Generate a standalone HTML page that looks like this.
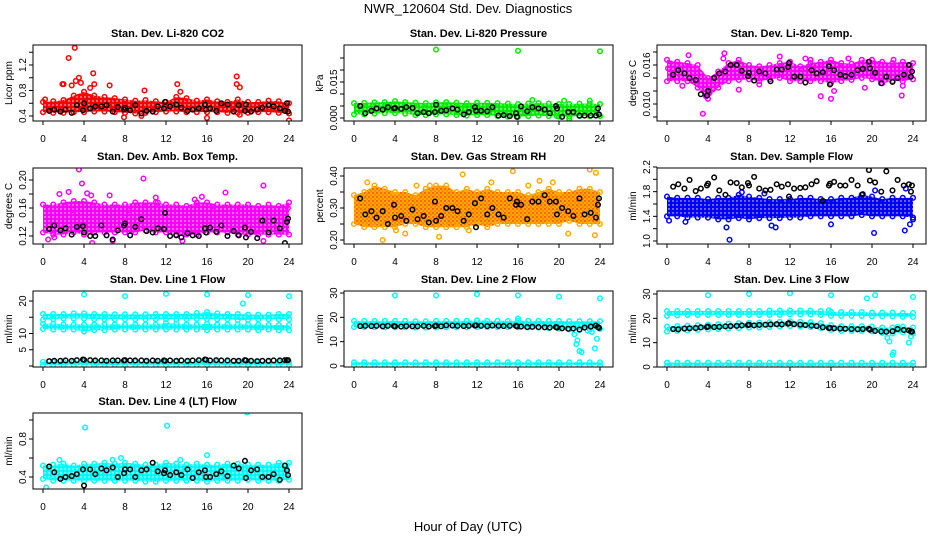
<!DOCTYPE html>
<html><head><meta charset="utf-8"><style>
html,body{margin:0;padding:0;background:#fff;}
svg{display:block;font-family:"Liberation Sans",sans-serif;}
</style></head><body>
<svg id="chart" width="936" height="540" viewBox="0 0 936 540" xmlns="http://www.w3.org/2000/svg">
<text x="468" y="13" text-anchor="middle" font-size="13">NWR_120604  Std. Dev. Diagnostics</text>
<text x="468" y="531" text-anchor="middle" font-size="13">Hour of Day (UTC)</text>
<g id="panels"></g>
</svg>
<script>
const hours=[0,1,2,3,4,5,6,7,8,9,10,11,12,13,14,15,16,17,18,19,20,21,22,23,24];
const bT=[0.6,1.1,1.7,2.2,2.8,3.3,3.9,4.0,4.6,5.1,5.7,6.2,6.8,7.3,7.9,8.0,8.5,9.0,9.6,10.1,10.7,11.2,11.8,11.9,12.4,13.0,13.5,14.1,14.6,15.2,15.8,15.9,16.3,16.9,17.4,18.0,18.6,19.1,19.7,19.8,20.3,20.9,21.4,22.0,22.5,23.1,23.6,23.8,23.9];
const xTicks=[0,4,8,12,16,20,24];

// CO2
const co2Hi=[0.62,0.63,0.65,0.72,0.78,0.72,0.70,0.68,0.66,0.64,0.65,0.63,0.62,0.70,0.68,0.64,0.66,0.63,0.62,0.66,0.62,0.62,0.64,0.63,0.60];
const co2Lo=[0.46,0.45,0.45,0.46,0.46,0.47,0.47,0.46,0.45,0.44,0.45,0.46,0.47,0.47,0.46,0.46,0.46,0.46,0.45,0.45,0.45,0.46,0.46,0.45,0.44];
const co2XT=[2,2.5,3.1,1.9,3.2,3.5,4.9,5.0,6.5,9.9,13.1,13.4,18.9,18.9,19.2,19.2,7.9,16.0,24,3.7,2.8,4.6,0.2,9.6];
const co2XV=[0.90,1.31,1.47,0.90,0.95,1.0,1.07,0.90,0.88,0.80,0.90,0.78,1.02,0.90,0.85,0.42,0.38,0.37,0.33,0.92,0.88,0.84,0.66,0.40];
const co2B=[0.48,0.50,0.47,0.50,0.45,0.57,0.49,0.60,0.52,0.55,0.55,0.57,0.47,0.54,0.50,0.53,0.49,0.57,0.44,0.48,0.47,0.55,0.52,0.62,0.55,0.58,0.53,0.48,0.50,0.52,0.58,0.50,0.52,0.48,0.60,0.58,0.47,0.57,0.48,0.58,0.47,0.50,0.53,0.57,0.55,0.52,0.48,0.60,0.47];
// Pressure
const prHi=[0.0062,0.0063,0.0065,0.0066,0.0070,0.0066,0.0064,0.0062,0.0065,0.0066,0.0064,0.0062,0.0064,0.0063,0.0062,0.0060,0.0058,0.0060,0.0062,0.0060,0.0058,0.0058,0.0060,0.0060,0.0058];
const prLo=[0.0015,0.0015,0.0018,0.0020,0.0020,0.0018,0.0012,0.0012,0.0015,0.0015,0.0012,0.0010,0.0012,0.0012,0.0008,0.0006,0.0005,0.0008,0.0010,0.0008,0.0006,0.0006,0.0008,0.0008,0.0008];
const prXT=[8,16,24,17.4,20.5,23,21,19.8];
const prXV=[0.0285,0.028,0.0278,0.0075,0.0072,0.0072,-0.0003,0.0008];
const prB=[0.005,0.002,0.003,0.004,0.0035,0.0045,0.004,0.0042,0.0038,0.0045,0.0042,0.002,0.0025,0.002,0.0025,0.0055,0.003,0.0032,0.004,0.0035,0.0015,0.0025,0.0045,0.003,0.003,0.0028,0.0045,0.001,0.0012,0.0008,0.002,0.0005,0.0048,0.0028,0.0045,0.004,0.0035,0.002,0.005,0.004,0.0005,0.0025,0.0025,0.001,0.001,0.001,0.001,0.004,0.0015];
// Li-820 Temp
const tpHi=[0.0168,0.0165,0.0163,0.0160,0.0140,0.0150,0.0163,0.0168,0.0160,0.0158,0.0160,0.0163,0.0165,0.0158,0.0163,0.0165,0.0168,0.0163,0.0162,0.0168,0.0168,0.0165,0.0163,0.0165,0.0163];
const tpLo=[0.0135,0.0135,0.0135,0.0125,0.0108,0.0125,0.0135,0.0137,0.0138,0.0135,0.0138,0.0140,0.0135,0.0135,0.0135,0.0135,0.0132,0.0135,0.0137,0.0140,0.0138,0.0132,0.0135,0.0135,0.0138];
const tpXT=[0.1,2.1,3.5,3.8,5.6,5.5,7.0,11.0,15.0,16.0,16.3,22.9,22.1,20.5,19.3,17.7,14.0,13.5,23.0,1.5,9.0];
const tpXV=[0.0155,0.0175,0.0085,0.0112,0.0178,0.0170,0.0122,0.0173,0.0112,0.0108,0.0120,0.0113,0.0168,0.0160,0.0125,0.0170,0.0168,0.0170,0.0128,0.0128,0.0130];
const tpB=[0.0145,0.0152,0.0147,0.0140,0.0137,0.0115,0.0113,0.0120,0.0140,0.0147,0.0150,0.0160,0.0160,0.0151,0.0143,0.0148,0.0136,0.0150,0.0147,0.0135,0.0153,0.0153,0.0157,0.0163,0.0142,0.0142,0.0133,0.0152,0.0147,0.0149,0.0158,0.0130,0.0152,0.0145,0.0143,0.0145,0.0152,0.0154,0.0165,0.0155,0.0148,0.0132,0.0142,0.0134,0.0140,0.0145,0.0160,0.0142,0.0150];
// Amb box temp
const abHi=[0.165,0.165,0.168,0.17,0.17,0.168,0.165,0.165,0.165,0.168,0.168,0.168,0.165,0.165,0.163,0.168,0.168,0.165,0.165,0.165,0.165,0.163,0.165,0.163,0.168];
const abLo=[0.125,0.122,0.122,0.125,0.122,0.125,0.125,0.125,0.125,0.125,0.128,0.125,0.125,0.122,0.122,0.122,0.125,0.125,0.125,0.122,0.122,0.122,0.122,0.122,0.122];
const abXT=[0.5,0.5,1.1,1.6,2.5,2.9,3.5,3.8,4.3,4.8,4.7,6.5,6.8,8.3,9.8,11.2,13.6,14.8,16.5,17.8,19.2,21.5,21.5,23.9,11.0,15.5];
const abXV=[0.16,0.115,0.118,0.18,0.183,0.157,0.215,0.195,0.181,0.11,0.178,0.178,0.113,0.157,0.202,0.168,0.113,0.172,0.162,0.182,0.159,0.192,0.113,0.16,0.175,0.176];
const abB=[0.13,0.135,0.128,0.131,0.122,0.133,0.134,0.125,0.120,0.120,0.135,0.121,0.115,0.128,0.135,0.138,0.121,0.133,0.144,0.127,0.125,0.131,0.130,0.153,0.120,0.121,0.118,0.124,0.121,0.120,0.131,0.125,0.132,0.126,0.135,0.120,0.127,0.121,0.132,0.118,0.126,0.117,0.142,0.125,0.142,0.131,0.11,0.14,0.145];
// RH
const rhHi=[0.34,0.35,0.37,0.36,0.35,0.35,0.34,0.36,0.37,0.37,0.35,0.36,0.35,0.36,0.35,0.35,0.35,0.34,0.35,0.36,0.35,0.35,0.36,0.36,0.35];
const rhLo=[0.25,0.24,0.24,0.24,0.24,0.25,0.25,0.24,0.24,0.24,0.24,0.24,0.25,0.24,0.25,0.25,0.25,0.25,0.25,0.25,0.25,0.26,0.25,0.25,0.25];
const rhXT=[1.3,2.8,4.1,5.0,6.1,8.3,10.6,13.4,15.5,17.0,18.1,19.4,20.9,23.0,23.6,23.5,7.4,11.2];
const rhXV=[0.38,0.20,0.23,0.22,0.37,0.21,0.405,0.38,0.415,0.37,0.385,0.38,0.22,0.42,0.41,0.215,0.37,0.23];
const rhB=[0.33,0.28,0.29,0.27,0.29,0.25,0.31,0.27,0.275,0.26,0.295,0.265,0.275,0.255,0.32,0.26,0.275,0.30,0.30,0.29,0.26,0.28,0.315,0.24,0.33,0.28,0.30,0.28,0.27,0.33,0.31,0.32,0.31,0.265,0.32,0.32,0.34,0.32,0.32,0.28,0.30,0.29,0.275,0.33,0.28,0.285,0.27,0.31,0.33];
// Sample flow
const sfHi=[1.72,1.70,1.70,1.70,1.68,1.70,1.70,1.75,1.72,1.70,1.68,1.68,1.68,1.70,1.70,1.68,1.68,1.70,1.70,1.75,1.72,1.68,1.70,1.70,1.70];
const sfLo=[1.40,1.40,1.38,1.38,1.38,1.35,1.35,1.37,1.35,1.37,1.37,1.37,1.38,1.38,1.40,1.40,1.40,1.40,1.40,1.42,1.40,1.40,1.40,1.40,1.38];
const sfXT=[0.2,1.8,5.8,6.1,10.2,10.6,16.0,20.2,23.2,23.7,24.0,23.3,20.3,7.3,9.5];
const sfXV=[1.33,1.31,1.22,1.02,1.25,1.22,1.27,1.13,1.17,1.27,1.35,1.85,1.82,1.79,1.77];
const sfB=[1.88,1.92,1.85,1.99,1.81,1.85,1.90,1.93,2.03,1.82,1.75,1.95,1.94,1.87,1.94,1.90,2.04,1.85,1.82,1.83,1.92,1.88,1.92,1.72,1.85,1.86,1.87,1.92,1.97,1.65,1.90,1.93,1.96,1.90,1.90,1.99,1.90,1.76,2.15,1.98,1.95,1.80,2.13,1.82,1.99,1.90,1.92,1.80,1.90];
// Line 1
const l1HiA=[16.0,16.0,16.0,16.2,16.2,16.0,16.0,15.9,15.9,15.9,15.9,16.0,16.0,16.0,16.0,16.3,16.6,16.2,16.0,16.0,15.8,15.8,15.8,16.0,16.0];
const l1LoA=[14.2,14.4,14.6,14.6,14.6,14.4,14.4,14.4,14.4,14.4,14.4,14.4,14.4,14.4,14.4,14.5,14.4,14.4,14.4,14.2,14.2,14.4,14.4,14.4,14.4];
const l1HiB=[13.0,13.0,12.8,12.8,12.8,12.8,12.8,12.8,12.8,12.8,12.8,12.8,13.2,13.0,12.8,12.8,13.0,12.8,12.8,12.8,12.8,12.8,12.6,12.6,12.6];
const l1LoB=[11.4,11.2,11.2,11.2,10.6,11.0,11.0,11.2,11.2,11.2,11.2,11.2,11.2,11.2,11.2,11.2,11.0,11.2,11.2,11.2,11.2,11.0,11.2,11.0,11.0];
const l1HiC=[1.3,1.3,1.3,1.3,1.3,1.3,1.3,1.3,1.3,1.3,1.3,1.3,1.3,1.3,1.3,1.3,1.3,1.3,1.3,1.3,1.3,1.3,1.3,1.3,1.3];
const l1LoC=[0.3,0.3,0.3,0.3,0.3,0.3,0.3,0.3,0.3,0.3,0.3,0.3,0.3,0.3,0.3,0.3,0.3,0.3,0.3,0.3,0.3,0.3,0.3,0.3,0.3];
const l1XT=[4,8,12,16,20,24,19.5,19.8];
const l1XV=[22,21.5,22.2,22,21.8,21.5,19.2,15.2];
const l1B=[1.5,1.6,1.6,1.7,1.6,1.8,2.0,1.9,1.8,1.7,1.7,1.6,1.7,1.7,1.7,1.8,1.7,1.7,1.7,1.6,1.7,1.6,1.7,1.6,1.7,1.6,1.7,1.6,1.7,1.8,2.0,1.9,1.7,1.8,1.7,1.7,1.6,1.6,1.8,1.7,1.6,1.5,1.6,1.6,1.7,1.7,1.8,1.8,1.8];
// Line 2
const l2HiA=[18.5,18.5,18.5,18.6,18.5,18.5,18.4,18.4,18.5,18.5,18.6,18.6,18.8,18.6,18.6,18.5,18.6,18.6,18.5,18.5,18.5,18.4,18.4,18.4,18.4];
const l2LoA=[16.0,16.0,16.0,15.9,15.9,15.9,15.8,15.8,15.8,15.9,15.9,15.9,16.0,16.0,16.0,16.0,15.9,15.9,15.8,15.6,15.4,15.0,14.8,15.0,15.2];
const l2HiC=[1.5,1.5,1.5,1.5,1.5,1.5,1.5,1.5,1.5,1.5,1.5,1.5,1.5,1.5,1.5,1.5,1.5,1.5,1.5,1.5,1.5,1.5,1.5,1.5,1.5];
const l2LoC=[0.3,0.3,0.3,0.3,0.3,0.3,0.3,0.3,0.3,0.3,0.3,0.3,0.3,0.3,0.3,0.3,0.3,0.3,0.3,0.3,0.3,0.3,0.3,0.3,0.3];
const l2XT=[4,8,12,16,20,24,16,21.5,21.7,21.8,22,22.2,23.5,23.7,22.8,23.2];
const l2XV=[29,29,29.5,29,28.5,27.8,19.5,13,9,10.5,6.2,5.7,7.2,11.2,14.5,14];
const l2B=[16.4,16.5,16.4,16.5,16.3,16.5,16.4,16.3,16.2,16.4,16.3,16.3,16.5,16.2,16.4,16.6,16.3,16.7,16.6,16.5,16.4,16.5,16.6,16.7,16.5,16.4,16.6,16.5,16.4,16.5,16.5,16.3,16.2,16.0,16.1,16.0,15.9,15.8,16.0,15.8,15.5,15.3,15.4,15.0,15.8,16.2,16.6,16.0,15.7];
// Line 3
const l3HiA=[23.0,23.0,23.0,23.0,23.0,23.0,23.0,23.0,23.0,23.0,23.2,23.2,23.2,23.2,23.2,23.0,22.6,22.6,22.6,22.6,22.4,22.4,22.4,22.2,22.2];
const l3LoA=[21.0,21.2,21.4,21.4,21.4,21.4,21.4,21.4,21.4,21.4,21.4,21.4,21.6,21.6,21.6,21.4,21.0,21.0,21.0,21.0,20.8,20.8,20.8,20.6,20.6];
const l3HiB=[16.6,16.8,17.0,17.2,17.4,17.6,17.8,18.0,18.2,18.2,18.4,18.6,18.8,18.6,18.4,18.0,17.2,16.8,16.8,16.8,16.6,16.2,16.2,16.6,16.2];
const l3LoB=[14.6,14.8,15.0,15.2,15.4,15.6,15.8,16.0,16.2,16.2,16.4,16.6,16.8,16.6,16.4,16.0,15.2,14.8,14.8,14.8,14.6,14.0,13.8,14.2,13.8];
const l3HiC=[1.8,1.8,1.8,1.8,1.8,1.8,1.8,1.8,1.8,1.8,1.8,1.8,1.8,1.8,1.8,1.8,1.8,1.8,1.8,1.8,1.8,1.8,1.8,1.8,1.8];
const l3LoC=[0.4,0.4,0.4,0.4,0.4,0.4,0.4,0.4,0.4,0.4,0.4,0.4,0.4,0.4,0.4,0.4,0.4,0.4,0.4,0.4,0.4,0.4,0.4,0.4,0.4];
const l3XT=[4,8,12,16,19.5,20.3,24,21.5,21.7,22,22.1,23.6,23.8,15.8,22.5,21];
const l3XV=[29.5,30,30.3,29.5,28.2,29.5,28.8,12,10.5,5,6,10,12.5,23.3,16.5,15];
const l3B=[15.6,15.5,15.8,15.9,16.0,16.3,16.4,16.6,16.4,16.5,16.7,16.8,16.9,17.1,17.2,17.4,17.1,17.3,17.4,17.5,17.6,17.5,17.8,18.0,17.6,17.4,17.2,17.0,16.8,16.3,16.0,16.1,15.9,15.8,15.7,15.6,15.5,15.6,15.7,15.3,14.8,14.6,14.5,14.7,15.6,15.2,15.0,14.6,14.5];
// Line 4
const l4Hi=[0.52,0.53,0.54,0.52,0.54,0.54,0.55,0.54,0.55,0.54,0.53,0.53,0.55,0.54,0.53,0.54,0.53,0.53,0.54,0.54,0.53,0.53,0.53,0.55,0.55];
const l4Lo=[0.38,0.36,0.36,0.36,0.36,0.36,0.36,0.36,0.36,0.36,0.35,0.35,0.36,0.36,0.36,0.36,0.35,0.36,0.36,0.36,0.37,0.36,0.36,0.36,0.37];
const l4XT=[4.1,12.1,19.9,0.3,16,1.6,6.8,13.4,7.6];
const l4XV=[0.92,0.94,1.08,0.29,0.63,0.58,0.58,0.58,0.60];
const l4B=[0.51,0.45,0.38,0.40,0.41,0.43,0.48,0.31,0.48,0.43,0.49,0.47,0.50,0.40,0.44,0.48,0.48,0.40,0.47,0.48,0.55,0.46,0.44,0.47,0.42,0.45,0.42,0.48,0.39,0.45,0.47,0.40,0.40,0.43,0.46,0.41,0.52,0.49,0.57,0.39,0.47,0.48,0.40,0.40,0.43,0.37,0.52,0.47,0.42];

const panels=[
 {id:'co2',col:0,row:0,title:'Stan. Dev. Li-820 CO2',ylab:'Licor ppm',color:'#ff0000',v1:0.4,y1:116,v2:1.2,y2:65,ticks:[0.4,0.6,0.8,1.0,1.2,1.4],labels:['0.4','','0.8','','1.2',''],bands:[[co2Hi,co2Lo]],xt:co2XT,xv:co2XV,b:co2B},
 {id:'pressure',col:1,row:0,title:'Stan. Dev. Li-820 Pressure',ylab:'kPa',color:'#00ee00',v1:0,y1:118,v2:0.015,y2:82,ticks:[0,0.005,0.01,0.015,0.02,0.025],labels:['0.000','','','0.015','',''],bands:[[prHi,prLo]],xt:prXT,xv:prXV,b:prB},
 {id:'li820-temp',col:2,row:0,title:'Stan. Dev. Li-820 Temp.',ylab:'degrees C',color:'#ff00ff',v1:0.008,y1:117,v2:0.018,y2:52,ticks:[0.008,0.010,0.012,0.014,0.016,0.018],labels:['','0.010','','','0.016',''],bands:[[tpHi,tpLo]],xt:tpXT,xv:tpXV,b:tpB},
 {id:'amb-box-temp',col:0,row:1,title:'Stan. Dev. Amb. Box Temp.',ylab:'degrees C',color:'#ff00ff',v1:0.12,y1:236,v2:0.20,y2:180,ticks:[0.12,0.14,0.16,0.18,0.20],labels:['0.12','','0.16','','0.20'],bands:[[abHi,abLo]],xt:abXT,xv:abXV,b:abB},
 {id:'gas-rh',col:1,row:1,title:'Stan. Dev. Gas Stream RH',ylab:'percent',color:'#ffaa00',dot:'#ff0000',v1:0.2,y1:240,v2:0.4,y2:176,ticks:[0.2,0.25,0.3,0.35,0.4],labels:['0.20','','0.30','','0.40'],bands:[[rhHi,rhLo]],xt:rhXT,xv:rhXV,b:rhB},
 {id:'sample-flow',col:2,row:1,title:'Stan. Dev. Sample Flow',ylab:'ml/min',color:'#0000ff',v1:1.0,y1:241,v2:2.2,y2:167,ticks:[1.0,1.2,1.4,1.6,1.8,2.0,2.2],labels:['1.0','','1.4','','1.8','','2.2'],bands:[[sfHi,sfLo]],xt:sfXT,xv:sfXV,b:sfB},
 {id:'line1-flow',col:0,row:2,title:'Stan. Dev. Line 1 Flow',ylab:'ml/min',color:'#00ffff',v1:0,y1:366,v2:20,y2:301,ticks:[0,5,10,15,20],labels:['','5','10','','20'],bands:[[l1HiA,l1LoA],[l1HiB,l1LoB],[l1HiC,l1LoC]],xt:l1XT,xv:l1XV,b:l1B},
 {id:'line2-flow',col:1,row:2,title:'Stan. Dev. Line 2 Flow',ylab:'ml/min',color:'#00ffff',v1:0,y1:366,v2:30,y2:293,ticks:[0,10,20,30],labels:['0','10','20','30'],bands:[[l2HiA,l2LoA],[l2HiC,l2LoC]],xt:l2XT,xv:l2XV,b:l2B},
 {id:'line3-flow',col:2,row:2,title:'Stan. Dev. Line 3 Flow',ylab:'ml/min',color:'#00ffff',v1:0,y1:367,v2:30,y2:294,ticks:[0,10,20,30],labels:['0','10','20','30'],bands:[[l3HiA,l3LoA],[l3HiB,l3LoB],[l3HiC,l3LoC]],xt:l3XT,xv:l3XV,b:l3B},
 {id:'line4-flow',col:0,row:3,title:'Stan. Dev. Line 4 (LT) Flow',ylab:'ml/min',color:'#00ffff',v1:0.4,y1:477,v2:0.8,y2:439,ticks:[0.4,0.6,0.8,1.0],labels:['0.4','','0.8',''],bands:[[l4Hi,l4Lo]],xt:l4XT,xv:l4XV,b:l4B}
];

const NS='http://www.w3.org/2000/svg';
const root=document.getElementById('panels');
function mk(tag,attrs,parent){const e=document.createElementNS(NS,tag);for(const k in attrs)e.setAttribute(k,attrs[k]);parent.appendChild(e);return e;}
const colLeft=[33,344,657], rowTop=[45,168,291,413], W=269, H=76;
const defs=mk('defs',{},document.getElementById('chart'));

panels.forEach(p=>{
  const L=colLeft[p.col], T=rowTop[p.row], B=T+H;
  const xS=h=>L+10+h*(246/24);
  const yS=v=>p.y1+(v-p.v1)*(p.y2-p.y1)/(p.v2-p.v1);
  const g=mk('g',{},root);
  
  
  // pattern
  const pat=mk('pattern',{id:'pat-'+p.id,width:4,height:4,patternUnits:'userSpaceOnUse'},defs);
  mk('rect',{width:4,height:4,fill:p.color},pat);
  mk('circle',{cx:1,cy:1,r:0.7,fill:p.dot||'#ffffff'},pat);
  mk('circle',{cx:3,cy:3,r:0.5,fill:p.dot||'#000000','fill-opacity':p.dot?1:0.25},pat);
  const cp=mk('clipPath',{id:'clip-'+p.id},defs);
  mk('rect',{x:L,y:T,width:W,height:H},cp);
  const t=mk('text',{x:L+W/2,y:T-8,'text-anchor':'middle','font-size':11,'font-weight':'bold'},g);
  t.textContent=p.title;
  
  
  const yl=mk('text',{x:0,y:0,transform:`translate(${L-21},${T+H/2}) rotate(-90)`,'text-anchor':'middle','font-size':10},g);
  yl.textContent=p.ylab;
  
  
  const plot=mk('g',{'clip-path':`url(#clip-${p.id})`},g);
  p.bands.forEach(bd=>{
    const hi=bd[0], lo=bd[1];
    let d='';
    hours.forEach((h,i)=>{d+=(i?'L':'M')+xS(h)+','+yS(hi[i]);});
    for(let i=hours.length-1;i>=0;i--)d+='L'+xS(hours[i])+','+yS(lo[i]);
    const poly=mk('path',{d:d+'Z',fill:`url(#pat-${p.id})`},plot);
    
    
    hours.forEach((h,i)=>{
      [hi[i],lo[i]].forEach(v=>{
        const c=mk('circle',{cx:xS(h),cy:yS(v),r:2.3,fill:'none',stroke:p.color,'stroke-width':1.5},plot);
        
        
      });
    });
  });
  p.xt.forEach((h,i)=>{
    const c=mk('circle',{cx:xS(h),cy:yS(p.xv[i]),r:2.3,fill:'none',stroke:p.color,'stroke-width':1.5},plot);
    
    
  });
  bT.forEach((h,i)=>{
    const c=mk('circle',{cx:xS(h),cy:yS(p.b[i]),r:2.3,fill:'none',stroke:'#000','stroke-width':1.5},plot);
    
    
  });
  const box=mk('rect',{x:L,y:T,width:W,height:H,fill:'none',stroke:'#000','stroke-width':1},g);
  
  
  // x axis
  mk('line',{x1:xS(0),x2:xS(24),y1:B,y2:B,stroke:'#000'},g);
  xTicks.forEach(h=>{
    mk('line',{x1:xS(h),x2:xS(h),y1:B,y2:B+4,stroke:'#000'},g);
    const tl=mk('text',{x:xS(h),y:B+21,'text-anchor':'middle','font-size':10},g);
    tl.textContent=h;
    
    
  });
  // y axis
  p.ticks.forEach((v,i)=>{
    const y=yS(v);
    mk('line',{x1:L-4,x2:L,y1:y,y2:y,stroke:'#000'},g);
    if(p.labels[i]){
      const tl=mk('text',{x:0,y:0,transform:`translate(${L-7},${y}) rotate(-90)`,'text-anchor':'middle','font-size':10},g);
      tl.textContent=p.labels[i];
      
      
    }
  });
  const yt=p.ticks.map(yS);
  mk('line',{x1:L,x2:L,y1:Math.min(...yt),y2:Math.max(...yt),stroke:'#000'},g);
});
</script>
</body></html>
